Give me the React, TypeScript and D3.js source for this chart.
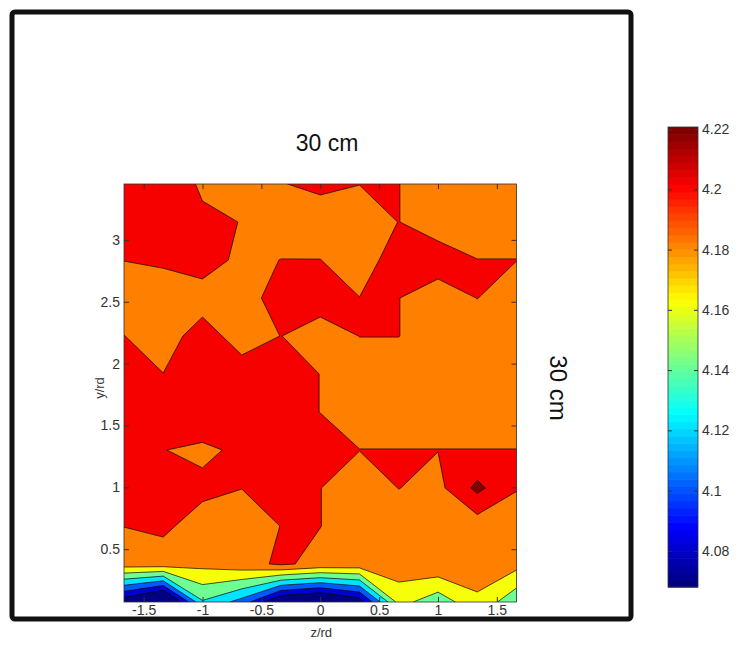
import React, { useEffect, useRef } from 'react';
import * as d3 from 'd3';

// grid positions of the measurement points
const zPoints = [-1.667, -1.333, -1, -0.667, -0.333, 0, 0.333, 0.667, 1, 1.333, 1.667];
const yPoints = [3.452, 3.145, 2.838, 2.531, 2.223, 1.916, 1.609, 1.302, 0.995, 0.687, 0.38, 0.073];

// measured values, one row per y (top row first)
const field = [
  [4.21, 4.21, 4.1978, 4.19, 4.199, 4.205, 4.2003, 4.2003, 4.19, 4.19, 4.19],
  [4.21, 4.21, 4.2027, 4.1997, 4.19, 4.1877, 4.19, 4.2003, 4.19, 4.19, 4.19],
  [4.2003, 4.205, 4.21, 4.1948, 4.2003, 4.2003, 4.19, 4.21, 4.21, 4.2003, 4.2003],
  [4.19, 4.182, 4.19, 4.19, 4.21, 4.21, 4.2003, 4.2003, 4.19, 4.2003, 4.19],
  [4.2003, 4.19, 4.21, 4.19, 4.2003, 4.19, 4.2003, 4.2003, 4.19, 4.19, 4.19],
  [4.21, 4.2003, 4.21, 4.21, 4.21, 4.1997, 4.19, 4.19, 4.19, 4.19, 4.19],
  [4.21, 4.21, 4.216, 4.21, 4.21, 4.1997, 4.19, 4.19, 4.19, 4.19, 4.19],
  [4.21, 4.2004, 4.196, 4.204, 4.21, 4.21, 4.2003, 4.2003, 4.2003, 4.2003, 4.2003],
  [4.21, 4.21, 4.2045, 4.2003, 4.21, 4.2003, 4.19, 4.2003, 4.1945, 4.225, 4.201],
  [4.2003, 4.2035, 4.192, 4.19, 4.2003, 4.2003, 4.19, 4.19, 4.19, 4.1893, 4.19],
  [4.19, 4.1915, 4.186, 4.193, 4.203, 4.1947, 4.193, 4.1913, 4.197, 4.19, 4.1867],
  [4.065, 4.03, 4.138, 4.112, 4.055, 4.043, 4.067, 4.1676, 4.147, 4.1764, 4.1445],
];

const levels = [4.08, 4.1, 4.12, 4.14, 4.16, 4.18, 4.2, 4.22];
const colorLimits = [4.068, 4.2207];
const fillLimits = [4.068, 4.2173];
const cbTicks = [4.08, 4.1, 4.12, 4.14, 4.16, 4.18, 4.2, 4.22];
const xTicks = [-1.5, -1, -0.5, 0, 0.5, 1, 1.5];
const yTicks = [0.5, 1, 1.5, 2, 2.5, 3];

const font = "'Liberation Sans', Arial, Helvetica, sans-serif";

const jet = (t: number) => {
  const c = (v: number) => Math.max(0, Math.min(1, v));
  const tt = c(t);
  const r = c(1.5 - Math.abs(4 * tt - 3));
  const g = c(1.5 - Math.abs(4 * tt - 2));
  const b = c(1.5 - Math.abs(4 * tt - 1));
  return d3.rgb(r * 255, g * 255, b * 255).formatHex();
};

const App = () => {
  const svgRef = useRef<SVGSVGElement>(null);

  useEffect(() => {
    const width = 740;
    const height = 646;
    const plotLeft = 124;
    const plotRight = 516.5;
    const plotTop = 184;
    const plotBottom = 602;

    const svg = d3.select(svgRef.current)
      .attr('width', width)
      .attr('height', height)
      .attr('viewBox', [0, 0, width, height]);
    svg.selectAll('*').remove();

    const x = d3.scaleLinear()
      .domain([zPoints[0], zPoints[zPoints.length - 1]])
      .range([plotLeft, plotRight]);
    const y = d3.scaleLinear()
      .domain([yPoints[yPoints.length - 1], yPoints[0]])
      .range([plotBottom, plotTop]);

    const nx = zPoints.length;
    const ny = yPoints.length;
    // contour grid coordinates -> pixels (sample i sits at i + 0.5)
    const gx = d3.scaleLinear().domain([0.5, nx - 0.5]).range([x(zPoints[0]), x(zPoints[nx - 1])]);
    const gy = d3.scaleLinear().domain([0.5, ny - 0.5]).range([y(yPoints[0]), y(yPoints[ny - 1])]);

    const fillT = (v: number) => (v - fillLimits[0]) / (fillLimits[1] - fillLimits[0]);

    // outer frame
    svg.append('rect')
      .attr('x', 12).attr('y', 12)
      .attr('width', 619).attr('height', 607)
      .attr('rx', 3)
      .attr('fill', 'none')
      .attr('stroke', '#111')
      .attr('stroke-width', 5);

    svg.append('clipPath').attr('id', 'plot-clip')
      .append('rect')
      .attr('x', plotLeft).attr('y', plotTop)
      .attr('width', plotRight - plotLeft).attr('height', plotBottom - plotTop);

    const plot = svg.append('g').attr('clip-path', 'url(#plot-clip)');

    plot.append('rect')
      .attr('x', plotLeft).attr('y', plotTop)
      .attr('width', plotRight - plotLeft).attr('height', plotBottom - plotTop)
      .attr('fill', jet(0));

    const contours = d3.contours()
      .size([nx, ny])
      .thresholds(levels)(field.flat());

    const path = d3.geoPath(d3.geoTransform({
      point(px: number, py: number) {
        // @ts-ignore
        this.stream.point(gx(px), gy(py));
      },
    }));

    plot.selectAll('path.band')
      .data(contours)
      .enter()
      .append('path')
      .attr('class', 'band')
      .attr('d', (d: any) => path(d))
      .attr('fill', (d: any) => jet(fillT(d.value)))
      .attr('stroke', '#000')
      .attr('stroke-opacity', 0.85)
      .attr('stroke-width', 0.8)
      .attr('stroke-linejoin', 'round');

    // axes box
    svg.append('rect')
      .attr('x', plotLeft).attr('y', plotTop)
      .attr('width', plotRight - plotLeft).attr('height', plotBottom - plotTop)
      .attr('fill', 'none')
      .attr('stroke', '#333')
      .attr('stroke-width', 0.8);

    const styleAxis = (g: any) => {
      g.select('.domain').remove();
      g.selectAll('line').attr('stroke', '#333');
      g.selectAll('text')
        .attr('fill', '#333')
        .style('font-family', font)
        .style('font-size', '14px');
    };

    svg.append('g')
      .attr('transform', `translate(0,${plotBottom})`)
      .call(d3.axisBottom(x).tickValues(xTicks).tickSizeInner(-5).tickSizeOuter(0)
        .tickPadding(3).tickFormat((d: any) => String(d)))
      .call(styleAxis);

    svg.append('g')
      .attr('transform', `translate(0,${plotTop})`)
      .call(d3.axisTop(x).tickValues(xTicks).tickSizeInner(-5).tickSizeOuter(0).tickFormat(() => ''))
      .call(styleAxis);

    svg.append('g')
      .attr('transform', `translate(${plotLeft},0)`)
      .call(d3.axisLeft(y).tickValues(yTicks).tickSizeInner(-5).tickSizeOuter(0)
        .tickPadding(4).tickFormat((d: any) => String(d)))
      .call(styleAxis);

    svg.append('g')
      .attr('transform', `translate(${plotRight},0)`)
      .call(d3.axisRight(y).tickValues(yTicks).tickSizeInner(-5).tickSizeOuter(0).tickFormat(() => ''))
      .call(styleAxis);

    // axis labels
    svg.append('text')
      .attr('x', (plotLeft + plotRight) / 2 + 1)
      .attr('y', 637)
      .attr('text-anchor', 'middle')
      .attr('fill', '#333')
      .style('font-family', font)
      .style('font-size', '13px')
      .text('z/rd');

    svg.append('text')
      .attr('transform', `translate(104,388) rotate(-90)`)
      .attr('text-anchor', 'middle')
      .attr('fill', '#333')
      .style('font-family', font)
      .style('font-size', '13px')
      .text('y/rd');

    // dimension annotations
    svg.append('text')
      .attr('x', 327)
      .attr('y', 151)
      .attr('text-anchor', 'middle')
      .attr('fill', '#111')
      .style('font-family', font)
      .style('font-size', '23px')
      .text('30 cm');

    svg.append('text')
      .attr('transform', `translate(550,388) rotate(90)`)
      .attr('text-anchor', 'middle')
      .attr('fill', '#111')
      .style('font-family', font)
      .style('font-size', '24px')
      .text('30 cm');

    // colorbar
    const cbLeft = 668;
    const cbRight = 698;
    const cb = d3.scaleLinear().domain(colorLimits).range([587, 127]);
    const steps = d3.range(64);
    const stepH = (cb(colorLimits[0]) - cb(colorLimits[1])) / 64;

    svg.append('g')
      .selectAll('rect')
      .data(steps)
      .enter()
      .append('rect')
      .attr('x', cbLeft)
      .attr('width', cbRight - cbLeft)
      .attr('y', (k: number) => cb(colorLimits[0]) - (k + 1) * stepH)
      .attr('height', stepH + 0.6)
      .attr('fill', (k: number) => jet(k / 63));

    svg.append('rect')
      .attr('x', cbLeft).attr('y', cb(colorLimits[1]))
      .attr('width', cbRight - cbLeft)
      .attr('height', cb(colorLimits[0]) - cb(colorLimits[1]))
      .attr('fill', 'none')
      .attr('stroke', '#333')
      .attr('stroke-width', 0.8);

    svg.append('g')
      .attr('transform', `translate(${cbRight},0)`)
      .call(d3.axisRight(cb).tickValues(cbTicks).tickSizeInner(-4).tickSizeOuter(0)
        .tickPadding(4).tickFormat((d: any) => String(d)))
      .call(styleAxis);

    svg.append('g')
      .attr('transform', `translate(${cbLeft},0)`)
      .call(d3.axisLeft(cb).tickValues(cbTicks).tickSizeInner(-4).tickSizeOuter(0).tickFormat(() => ''))
      .call(styleAxis);
  }, []);

  return (
    <div style={{ position: 'absolute', left: 0, top: 0 }}>
      <svg ref={svgRef}></svg>
    </div>
  );
};

export default App;
